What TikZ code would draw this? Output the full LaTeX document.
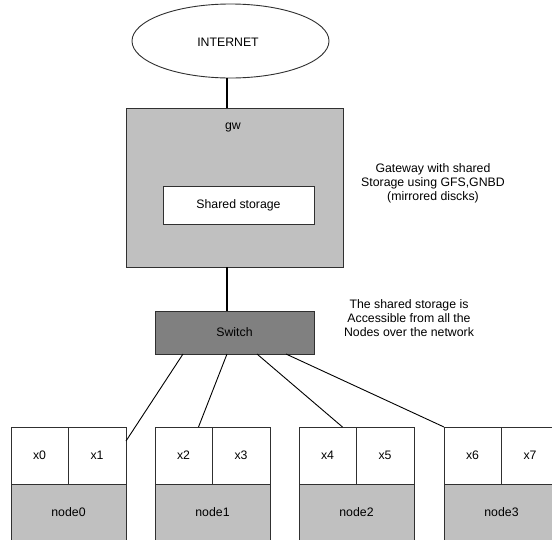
\documentclass[tikz,border=0pt]{standalone}
\usepackage{fontspec}
\setmainfont{Liberation Sans}
\usetikzlibrary{shapes.geometric}
\definecolor{boxgray}{HTML}{C0C0C0}
\definecolor{switchgray}{HTML}{808080}
\definecolor{edge}{HTML}{303030}
\begin{document}
\begin{tikzpicture}[x=1pt,y=-1pt,
  every node/.style={inner sep=0pt,outer sep=0pt,font=\fontsize{12.3}{14}\selectfont},
  box/.style={draw=edge,line width=0.9pt,rectangle},
  link/.style={draw=black,line width=0.9pt},
  uplink/.style={draw=black,line width=1.8pt},
  note/.style={align=center,font=\fontsize{12.3}{14}\selectfont}]
\useasboundingbox (0,0) rectangle (552,539);
\clip (0,0) rectangle (552,539);
\fill[white] (0,0) rectangle (552,539);

% upstream: internet, gateway with shared storage, switch
\node[ellipse,draw=edge,line width=0.9pt,minimum width=197,minimum height=74] (inet) at (230.5,41) {};
\node (inetlabel) at (228,42) {INTERNET};
\node[box,fill=boxgray,minimum width=217,minimum height=159] (gw) at (234.5,187.5) {};
\node (gwlabel) at (233,127) {gw};
\node[box,fill=white,minimum width=151,minimum height=38] (store) at (238.5,205) {Shared storage};
\node[box,fill=switchgray,minimum width=159,minimum height=43] (sw) at (234.5,332.5) {Switch};

\draw[uplink] ([xshift=-7.5]gw.north) -- ([xshift=-7.5]gw.north |- inet.south);
\draw[uplink] ([xshift=-7.5]gw.south) -- ([xshift=-7.5]sw.north);

% annotations
\node[note] (gwnote) at (433,183) {Gateway with shared\\Storage using GFS,GNBD\\(mirrored discks)};
\node[note] (swnote) at (409,318) {The shared storage is\\Accessible from all the\\Nodes over the network};

% compute nodes, each with two slots on top
\foreach \L/\i/\a/\b in {11/0/0/1, 155/1/2/3, 299/2/4/5, 444/3/6/7} {
  \node[box,fill=white,minimum width=57,minimum height=57] (x\a) at (\L+28.5,455.5) {x\a};
  \node[box,fill=white,minimum width=58,minimum height=57] (x\b) at (\L+86,455.5) {x\b};
  \node[box,fill=boxgray,minimum width=115,minimum height=61] (n\i) at (\L+57.5,514.5) {};
  \node (n\i label) at (\L+57.5,512) {node\i};
}

% switch to nodes
\draw[link] ([xshift=-51.5]sw.south) -- ([yshift=-14]x1.north east);
\draw[link] ([xshift=-7.5]sw.south) -- ([xshift=15]x2.north);
\draw[link] ([xshift=22.5]sw.south) -- ([xshift=15]x4.north);
\draw[link] ([xshift=51.5]sw.south) -- (x6.north west);
\end{tikzpicture}
\end{document}
